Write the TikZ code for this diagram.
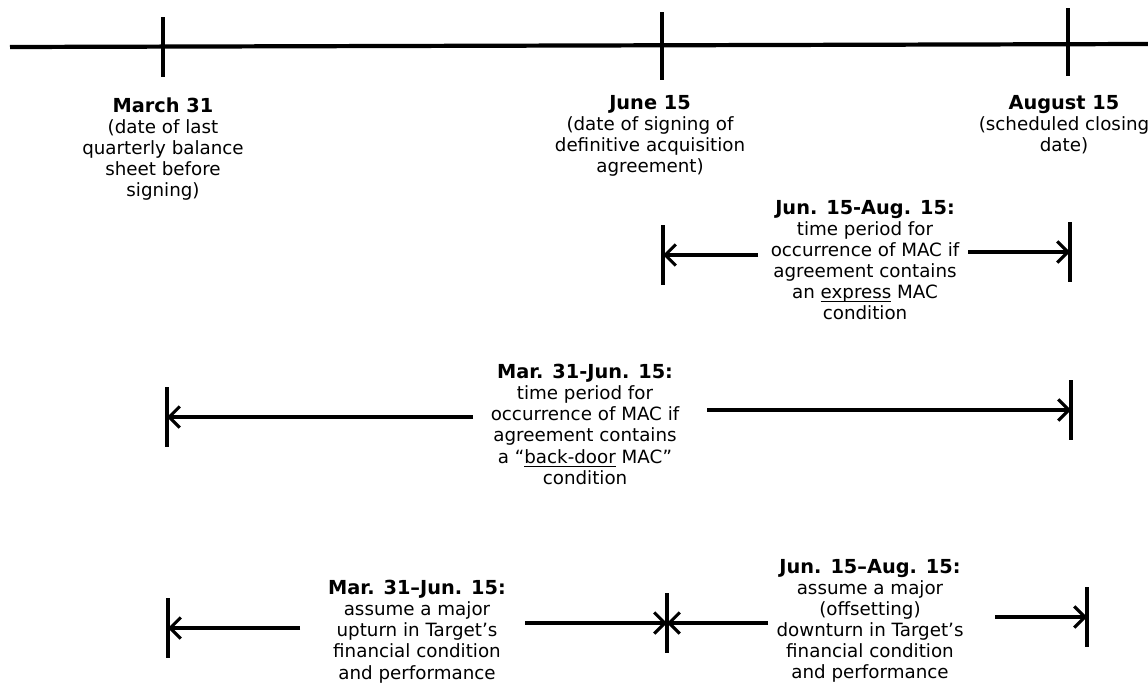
\documentclass[tikz,border=0pt]{standalone}
\usepackage{fontspec}
\setmainfont{DejaVu Sans}
\usetikzlibrary{arrows.meta}

\newcommand\undl[1]{\setbox0\hbox{#1}\rlap{\vrule height -1.5pt depth 2.1pt width \wd0}\box0\relax}
\newcommand\hd[1]{{\fontsize{11}{12}\selectfont\textbf{#1}}}

\tikzset{
  lbl/.style={align=center, anchor=north, inner sep=0pt, font=\fontsize{10.4}{12}\selectfont},
  tk/.style={line width=2.2pt},
  arr/.style={line width=1.8pt, -{Straight Barb[length=6pt,width=12pt,line width=1.8pt]}}
}

\begin{document}
\begin{tikzpicture}[x=0.02cm, y=-0.02cm]
  \useasboundingbox (0,0) rectangle (1148,683);

  % main time line
  \coordinate (tl0) at (10,47);
  \coordinate (tl1) at (1148,44);
  \draw[line width=2.4pt] (tl0) -- (tl1);
  \foreach \x/\a/\b in {163/17/77, 662/12/80, 1068/8/76}
    \draw[tk] (\x,\a) -- (\x,\b);

  \node[lbl] (mar) at (163,97) {\hd{March 31}\\(date of last\\quarterly balance\\sheet before\\signing)};
  \node[lbl] (jun) at (650,95) {\hd{June 15}\\(date of signing of\\definitive acquisition\\agreement)};
  \node[lbl] (aug) at (1064,95) {\hd{August 15}\\(scheduled closing\\date)};

  \node[lbl] (pa) at (865,200) {\hd{Jun. 15-Aug. 15:}\\time period for\\occurrence of MAC if\\agreement contains\\an \undl{express} MAC\\condition};
  \node[lbl] (pb) at (585,364) {\hd{Mar. 31-Jun. 15:}\\time period for\\occurrence of MAC if\\agreement contains\\a “\undl{back-door} MAC”\\condition};
  \node[lbl] (pc) at (417,580) {\hd{Mar. 31–Jun. 15:}\\assume a major\\upturn in Target’s\\financial condition\\and performance};
  \node[lbl] (pd) at (870,559) {\hd{Jun. 15–Aug. 15:}\\assume a major\\(offsetting)\\downturn in Target’s\\financial condition\\and performance};

  % period ends
  \foreach \n/\x/\y in {ra1/663/255, rb1/1070/252, ra2/167/417, rb2/1071/410,
                        ra3/168/628, rm3/667/623, rb3/1087/617} {
    \coordinate (\n) at (\x,\y);
    \draw[tk] (\n) ++(0,-30) -- ++(0,60);
  }
  \foreach \n/\x/\y in {sa1/758/255, sb1/968/252, sa2/473/417, sb2/707/410,
                        sa3/300/628, sb3/525/623, sc3/768/623, sd3/995/617}
    \coordinate (\n) at (\x,\y);

  \foreach \s/\t in {sa1/ra1, sb1/rb1, sa2/ra2, sb2/rb2, sa3/ra3, sb3/rm3, sc3/rm3, sd3/rb3}
    \draw[arr] (\s) -- (\t);
\end{tikzpicture}
\end{document}
